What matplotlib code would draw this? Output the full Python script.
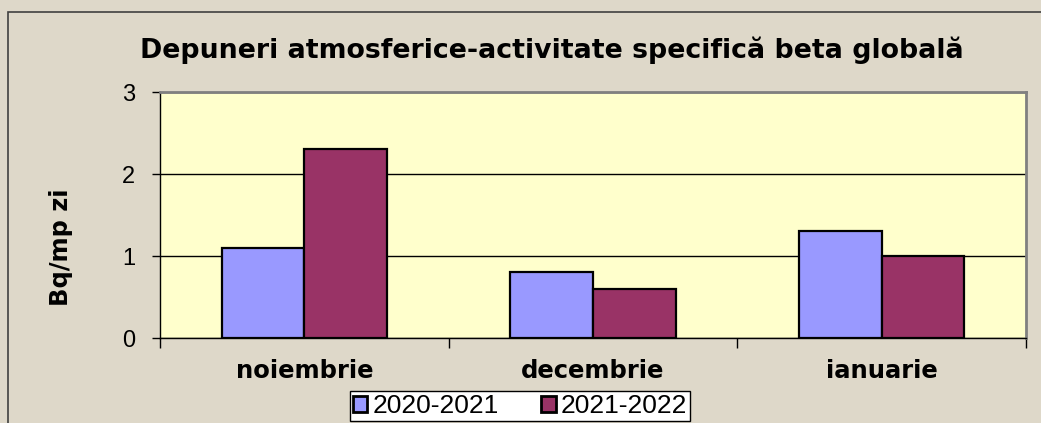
import numpy as np
import matplotlib
matplotlib.use("Agg")
import matplotlib.pyplot as plt
from matplotlib.patches import Patch, Rectangle

# date
luni = ["noiembrie", "decembrie", "ianuarie"]
serii = ["2020-2021", "2021-2022"]
val_2020_2021 = [1.1, 0.8, 1.3]
val_2021_2022 = [2.3, 0.6, 1.0]
y_ticks = [0, 1, 2, 3]

culori = ["#9999FF", "#993366"]
fundal = "#DED8C9"
zona = "#FFFFCC"

plt.rcParams["font.family"] = ["Liberation Sans", "DejaVu Sans"]
bold_font = ["DejaVu Sans"]

W, H = 1041, 423
fig = plt.figure(figsize=(W / 100, H / 100), dpi=100, facecolor=fundal)

# chenar exterior
fig.patches.append(Rectangle((8 / W, -0.1), 1.2, 1 - 12 / H + 0.1,
                             transform=fig.transFigure, fill=False,
                             edgecolor="#404040", linewidth=1.2))

ax = fig.add_axes([160 / W, (H - 338) / H, 866 / W, 246 / H])
ax.set_facecolor(zona)

x = np.arange(len(luni))
latime = 0.286
ax.bar(x - latime / 2, val_2020_2021, latime, color=culori[0],
       edgecolor="black", linewidth=1.6, zorder=3)
ax.bar(x + latime / 2, val_2021_2022, latime, color=culori[1],
       edgecolor="black", linewidth=1.6, zorder=3)

ax.set_xlim(-0.5, 2.5)
ax.set_ylim(0, 3)
ax.set_yticks(y_ticks)
ax.set_yticklabels([str(v) for v in y_ticks], fontsize=17)
ax.yaxis.grid(True, color="black", linewidth=1.0, zorder=1)

# etichete categorii + tick-uri la granite
ax.set_xticks([-0.5, 0.5, 1.5, 2.5])
ax.set_xticklabels([])
ax.set_xticks(x, minor=True)
ax.set_xticklabels(luni, minor=True, fontsize=17.5, fontweight="bold",
                   family=bold_font)
ax.tick_params(axis="x", which="minor", length=0, pad=15)
ax.tick_params(axis="x", which="major", length=7, width=1, direction="out")
ax.tick_params(axis="y", length=6, width=1, direction="out", pad=12)

for s in ["top", "right"]:
    ax.spines[s].set_color("#808080")
    ax.spines[s].set_linewidth(2)
for s in ["left", "bottom"]:
    ax.spines[s].set_color("black")
    ax.spines[s].set_linewidth(1)

fig.text(61 / W, 1 - 247 / H, "Bq/mp zi", rotation=90, ha="center",
         va="center", fontsize=17.4, fontweight="bold", family=bold_font)

fig.text(552 / W, 1 - 50 / H,
         "Depuneri atmosferice-activitate specifică beta globală",
         ha="center", va="center", fontsize=19.3, fontweight="bold",
         family=bold_font)

handles = [Patch(facecolor=c, edgecolor="black", linewidth=2) for c in culori]
leg = fig.legend(handles, serii, loc="center", ncol=2,
                 bbox_to_anchor=(520 / W, 1 - 406 / H), fontsize=19,
                 frameon=True, fancybox=False, edgecolor="black",
                 framealpha=1, facecolor="white",
                 handlelength=0.55, handleheight=0.55, handletextpad=0.2,
                 columnspacing=1.6, borderpad=0.1, borderaxespad=0)
leg.get_frame().set_linewidth(1)

fig.savefig("out.png", dpi=100, facecolor=fundal)
